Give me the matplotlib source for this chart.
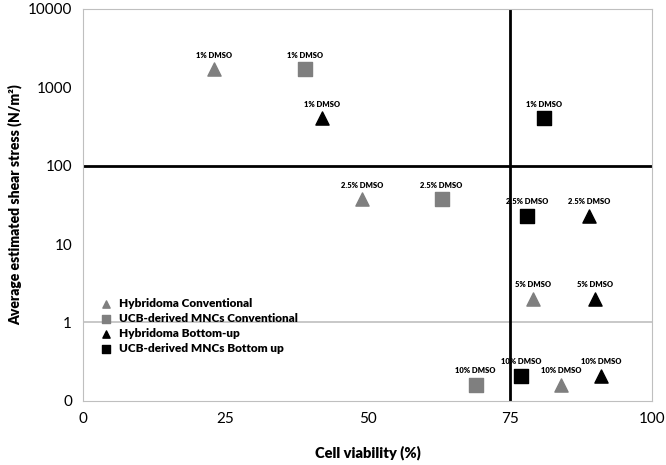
import matplotlib.pyplot as plt

plt.rcParams['font.family'] = ['Lato', 'DejaVu Sans']

# Hybridoma conventional (grey triangles)
hc_x = [23, 49, 79, 84]
hc_y = [1700, 37, 2.0, 0.16]
hc_lab = ['1% DMSO', '2.5% DMSO', '5% DMSO', '10% DMSO']

# UCB-derived MNCs conventional (grey squares)
uc_x = [39, 63, 69]
uc_y = [1700, 37, 0.16]
uc_lab = ['1% DMSO', '2.5% DMSO', '10% DMSO']

# Hybridoma bottom-up (black triangles)
hb_x = [42, 89, 90, 91]
hb_y = [400, 23, 2.0, 0.21]
hb_lab = ['1% DMSO', '2.5% DMSO', '5% DMSO', '10% DMSO']

# UCB-derived MNCs bottom up (black squares)
ub_x = [81, 78, 77]
ub_y = [400, 23, 0.21]
ub_lab = ['1% DMSO', '2.5% DMSO', '10% DMSO']

y_ticks = [0.1, 1, 10, 100, 1000, 10000]
y_tick_labels = ['0', '1', '10', '100', '1000', '10000']
x_ticks = [0, 25, 50, 75, 100]

grey = '#7f7f7f'

fig = plt.figure(figsize=(6.66, 4.65), dpi=100)
ax = fig.add_axes([0.125, 0.138, 0.854, 0.843])

ax.set_yscale('log')
ax.set_xlim(0, 100)
ax.set_ylim(0.1, 10000)

ax.axhline(1, color='#bfbfbf', lw=1.2, zorder=1)
ax.axhline(100, color='black', lw=2, zorder=2)
ax.axvline(75, color='black', lw=2, zorder=2)

ax.scatter(hc_x, hc_y, marker='^', s=90, color=grey, label='Hybridoma Conventional', zorder=3)
ax.scatter(uc_x, uc_y, marker='s', s=90, color=grey, label='UCB-derived MNCs Conventional', zorder=3)
ax.scatter(hb_x, hb_y, marker='^', s=90, color='black', label='Hybridoma Bottom-up', zorder=3)
ax.scatter(ub_x, ub_y, marker='s', s=90, color='black', label='UCB-derived MNCs Bottom up', zorder=3)

for xs, ys, labs in [(hc_x, hc_y, hc_lab), (uc_x, uc_y, uc_lab),
                     (hb_x, hb_y, hb_lab), (ub_x, ub_y, ub_lab)]:
    for x, y, t in zip(xs, ys, labs):
        ax.annotate(t, (x, y), xytext=(0, 10), textcoords='offset points',
                    ha='center', va='center', fontsize=5.5, fontweight='heavy')

ax.set_yticks(y_ticks)
ax.set_yticklabels(y_tick_labels)
ax.minorticks_off()
ax.set_xticks(x_ticks)
ax.tick_params(length=0, labelsize=11, pad=8)

for s in ax.spines.values():
    s.set_color('#bfbfbf')

ax.set_xlabel('Cell viability (%)', fontsize=10.5, fontweight='heavy', labelpad=14)
ax.set_ylabel('Average estimated shear stress (N/m²)', fontsize=10, fontweight='heavy', labelpad=4)

ax.legend(loc='upper left', bbox_to_anchor=(0.0, 0.29), frameon=False,
          prop={'weight': 'heavy', 'size': 8.5}, handletextpad=0.1,
          markerscale=0.55, labelspacing=0.35, borderaxespad=0.5)

fig.savefig('out.png', dpi=100)
